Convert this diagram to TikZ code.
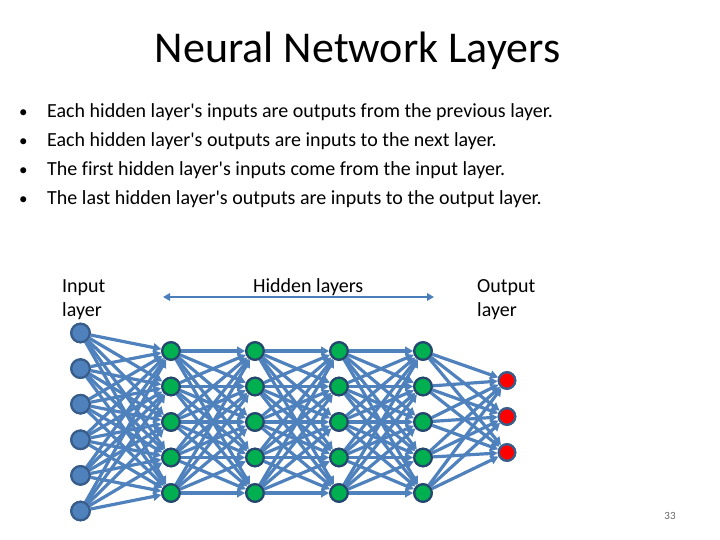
\documentclass[tikz,border=0pt]{standalone}
\usepackage{fontspec}
\setmainfont{Carlito}[Ligatures={TeXOff,NoCommon}]
\usetikzlibrary{arrows.meta}
\definecolor{edgeblue}{RGB}{79,129,189}
\definecolor{inblue}{RGB}{79,129,189}
\definecolor{inborder}{RGB}{56,93,138}
\definecolor{hgreen}{RGB}{0,176,80}
\definecolor{hborder}{RGB}{37,72,110}
\definecolor{ored}{RGB}{255,0,0}
\definecolor{arrowblue}{RGB}{74,126,187}
\tikzset{
  x=1pt, y=-1pt,
  neuron/.style={circle, inner sep=0pt, line width=2.2pt},
  innode/.style={neuron, minimum size=18.5pt, fill=inblue, draw=inborder},
  hidnode/.style={neuron, minimum size=17.5pt, fill=hgreen, draw=hborder},
  outnode/.style={neuron, minimum size=16.5pt, fill=ored, draw=inborder},
  conn/.style={draw=edgeblue, line width=3.2pt, -{Triangle[length=8pt,width=8.5pt]}},
  lbl/.style={font=\fontsize{20}{24}\selectfont, anchor=base west, inner sep=0pt},
}
\begin{document}
\begin{tikzpicture}
\useasboundingbox (0,0) rectangle (720,540);
\node[font=\fontsize{44}{52}\selectfont, anchor=base, inner sep=0pt] (title) at (357.5,63) {Neural Network Layers};
\foreach \t [count=\i] in {Each hidden layer's inputs are outputs from the previous layer.,
  Each hidden layer's outputs are inputs to the next layer.,
  The first hidden layer's inputs come from the input layer.,
  The last hidden layer's outputs are inputs to the output layer.}{
  \node[lbl, font=\fontsize{17}{22}\selectfont] (bul\i) at (19,{117.5+29*(\i-1)}) {•};
  \node[lbl] (b\i) at (47,{117.5+29*(\i-1)}) {\t};
}
\node[lbl] (inlab1) at (62,292) {Input};
\node[lbl] (inlab2) at (62,316) {layer};
\node[lbl] (hidlab) at (253,292) {Hidden layers};
\node[lbl] (outlab1) at (477,292) {Output};
\node[lbl] (outlab2) at (477,316) {layer};
\coordinate (arrL) at (163,297);
\coordinate (arrR) at (434,297);
\draw[arrowblue, line width=2.6pt, {Triangle[length=7pt,width=7.5pt]}-{Triangle[length=7pt,width=7.5pt]}] (arrL) -- (arrR);
\node[font=\fontsize{11}{13}\selectfont, text=black!60, anchor=base, inner sep=0pt] (pnum) at (670,519) {33};
% nodes
\foreach \y [count=\i] in {333,368.6,404.2,439.8,475.4,511}{
  \node[innode] (i\i) at (80.5,\y) {};
}
\foreach \x [count=\l] in {171,255,339,423}{
  \foreach \y [count=\i] in {351,386.5,422,457.5,493}{
    \node[hidnode] (h\l-\i) at (\x,\y) {};
  }
}
\foreach \y [count=\i] in {380.5,416.5,452.5}{
  \node[outnode] (o\i) at (507,\y) {};
}
% edges
\foreach \a in {1,...,6}{\foreach \b in {1,...,5}{\draw[conn] (i\a) -- (h1-\b);}}
\foreach \l/\m in {1/2,2/3,3/4}{\foreach \a in {1,...,5}{\foreach \b in {1,...,5}{\draw[conn] (h\l-\a) -- (h\m-\b);}}}
\foreach \a in {1,...,5}{\foreach \b in {1,...,3}{\draw[conn] (h4-\a) -- (o\b);}}
% redraw nodes on top
\foreach \i in {1,...,6}{\node[innode] at (i\i) {};}
\foreach \l in {1,...,4}{\foreach \i in {1,...,5}{\node[hidnode] at (h\l-\i) {};}}
\foreach \i in {1,...,3}{\node[outnode] at (o\i) {};}
\end{tikzpicture}
\end{document}
